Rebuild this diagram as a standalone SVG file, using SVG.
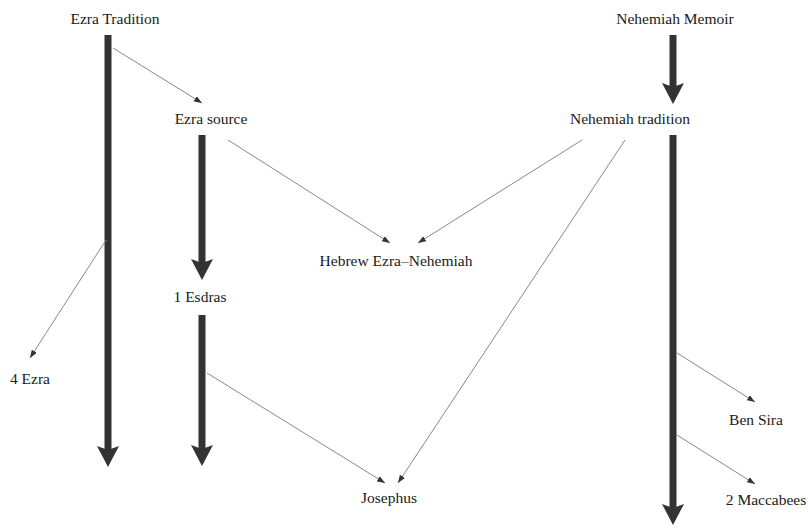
<svg xmlns="http://www.w3.org/2000/svg" width="808" height="529" viewBox="0 0 808 529">
<style>
.lbl{font-family:'Liberation Serif','DejaVu Serif',serif;font-size:15.5px;fill:#1a1a1a;text-anchor:middle}
.thick{stroke:#333;stroke-width:7;fill:none}
.head{fill:#333}
.thin{stroke:#888;stroke-width:1;fill:none;marker-end:url(#sm)}
</style>
<defs>
<marker id="sm" viewBox="0 0 8 6" refX="8" refY="3" markerWidth="8" markerHeight="6" markerUnits="userSpaceOnUse" orient="auto">
<path d="M0,0 L8,3 L0,6 Z" fill="#333"/>
</marker>
<path id="bighead" d="M0,0 L-11,-21 L0,-17 L11,-21 Z"/>
</defs>
<g id="connectors">
<line class="thick" x1="108" y1="35" x2="108" y2="450"/>
<use href="#bighead" class="head" x="108" y="467"/>
<line class="thick" x1="202" y1="135" x2="202" y2="264"/>
<use href="#bighead" class="head" x="202" y="280"/>
<line class="thick" x1="202" y1="315" x2="202" y2="450"/>
<use href="#bighead" class="head" x="202" y="466"/>
<line class="thick" x1="673" y1="35" x2="673" y2="88"/>
<use href="#bighead" class="head" x="673" y="104"/>
<line class="thick" x1="673" y1="135" x2="673" y2="508"/>
<use href="#bighead" class="head" x="673" y="525"/>
<line class="thin" x1="113" y1="48" x2="202" y2="103"/>
<line class="thin" x1="228" y1="140" x2="390" y2="243"/>
<line class="thin" x1="582" y1="140" x2="418" y2="243"/>
<line class="thin" x1="106" y1="240" x2="30" y2="358"/>
<line class="thin" x1="207" y1="373" x2="385" y2="483"/>
<line class="thin" x1="625" y1="140" x2="398" y2="483"/>
<line class="thin" x1="677" y1="353" x2="755" y2="402"/>
<line class="thin" x1="677" y1="435" x2="755" y2="484"/>
</g>
<g class="lbl" font-family="Liberation Serif, DejaVu Serif, serif">
<g id="ezra-tradition"><text x="115" y="24">Ezra Tradition</text></g>
<g id="nehemiah-memoir"><text x="675" y="24">Nehemiah Memoir</text></g>
<g id="ezra-source"><text x="211" y="124">Ezra source</text></g>
<g id="nehemiah-tradition"><text x="630" y="124">Nehemiah tradition</text></g>
<g id="hebrew-ezra-nehemiah"><text x="396" y="266">Hebrew Ezra–Nehemiah</text></g>
<g id="esdras-1"><text x="200" y="302">1 Esdras</text></g>
<g id="ezra-4"><text x="30" y="384">4 Ezra</text></g>
<g id="josephus"><text x="389" y="503">Josephus</text></g>
<g id="ben-sira"><text x="756" y="425">Ben Sira</text></g>
<g id="maccabees-2"><text x="766" y="505">2 Maccabees</text></g>
</g>
</svg>
